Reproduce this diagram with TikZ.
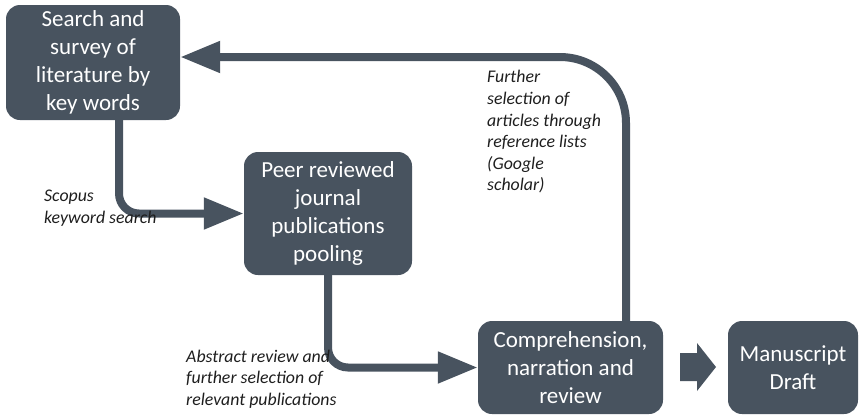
\documentclass[tikz,border=0pt]{standalone}
\usepackage{fontspec}
\setmainfont{Carlito}
\usepackage{xcolor}
\usetikzlibrary{arrows.meta}
\definecolor{slate}{HTML}{48535F}
\definecolor{ink}{HTML}{1E1E1E}

\begin{document}
\begin{tikzpicture}[x=1pt,y=-1pt,every node/.style={inner sep=0pt},stage/.style={fill=slate,rounded corners=14pt,text=white,align=center,font=\fontsize{23}{28}\selectfont},note/.style={text=ink,align=left,anchor=west,font=\fontsize{17.8}{21.6}\selectfont\itshape},flow/.style={slate,line width=8pt,-{Triangle[length=40pt,width=30pt]}}]
\useasboundingbox (0,0) rectangle (859,418);
\node[stage,minimum width=174pt,minimum height=115pt] (search) at (93,62.5){Search and\\survey of\\literature by\\key words};
\node[stage,minimum width=168pt,minimum height=123pt] (peer) at (328,213.5){Peer reviewed\\journal\\publications\\pooling};
\node[stage,minimum width=185pt,minimum height=93pt] (comp) at (570.5,367.5){Comprehension,\\narration and\\review};
\node[stage,minimum width=130pt,minimum height=93pt] (draft) at (793,367.5){Manuscript\\Draft};
\fill[slate] (680,353)--(697,353)--(697,343)--(716,367)--(697,391)--(697,381)--(680,381)--cycle;
\draw[flow,rounded corners=20pt] ([xshift=26pt]search.south) |- (peer.west);
\draw[flow,rounded corners=20pt] (peer.south) |- (comp.west);
\draw[flow,rounded corners=66pt] ([xshift=55.5pt]comp.north) |- ([yshift=5.5pt]search.east);
\node[note] (scopus) at (44,208){Scopus\\keyword search};
\node[note] (refs) at (487,132){Further\\selection of\\articles through\\reference lists\\(Google\\scholar)};
\node[note] (abstract) at (186,379){Abstract review and\\further selection of\\relevant publications};
\end{tikzpicture}
\end{document}
